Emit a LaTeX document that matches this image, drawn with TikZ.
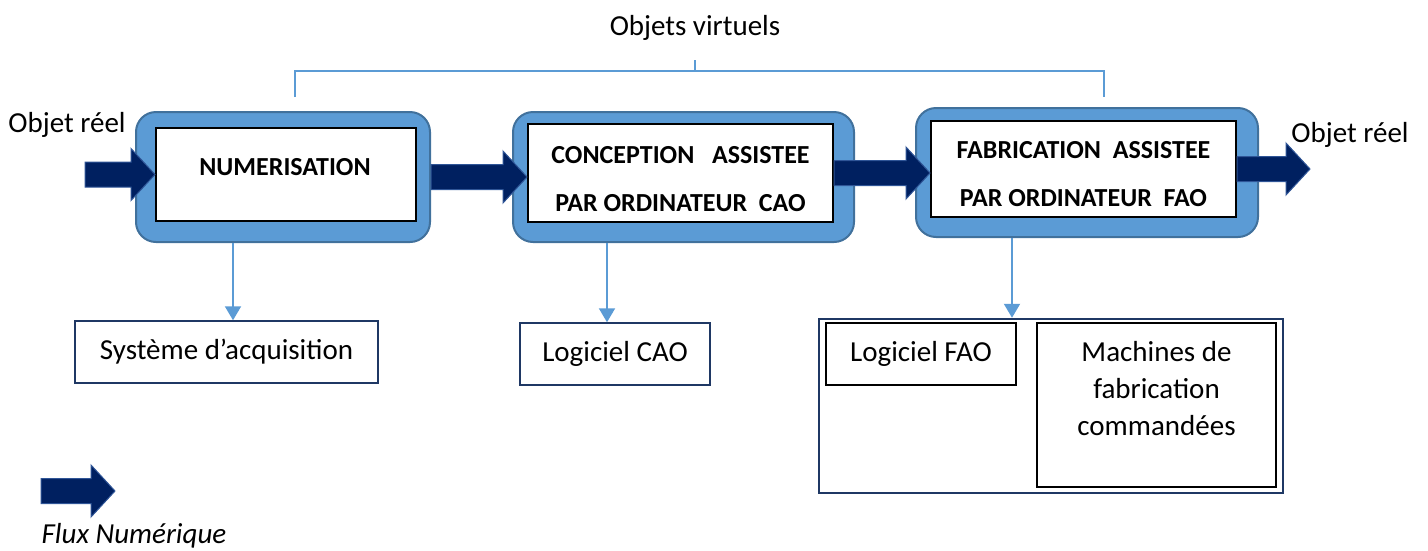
\documentclass[tikz,border=0pt]{standalone}
\usepackage{fontspec}
\setmainfont{Carlito}
\usetikzlibrary{arrows.meta,calc,positioning}

\definecolor{boxblue}{HTML}{5B9BD5}
\definecolor{boxedge}{HTML}{41719C}
\definecolor{fluxnavy}{HTML}{002060}
\definecolor{fluxedge}{HTML}{2F5597}
\definecolor{darknavy}{HTML}{1F3864}

%% block arrow from #1 to the x of #2
\newcommand\flux[2]{%
  \coordinate (fluxtip) at (#1 -| #2);
  \draw[fluxarr] ($(#1)+(0,-12.5)$) -- ($(fluxtip)+(-24,-12.5)$)
  -- ($(fluxtip)+(-24,-26)$) -- (fluxtip) -- ($(fluxtip)+(-24,26)$)
  -- ($(fluxtip)+(-24,12.5)$) -- ($(#1)+(0,12.5)$) -- cycle;}

\begin{document}
\begin{tikzpicture}[x=1pt,y=-1pt,
  txt/.style={font=\fontsize{29}{37}\selectfont,inner sep=0pt,align=center},
  outerbox/.style={draw=boxedge,line width=2pt,fill=boxblue,rounded corners=20pt},
  innerbox/.style={draw=black,line width=2pt,fill=white,inner sep=0pt},
  stagetxt/.style={align=center,font=\fontsize{26}{48}\selectfont\bfseries,inner sep=0pt},
  toolbox/.style={draw=darknavy,line width=1.5pt,fill=white,
    font=\fontsize{29}{37}\selectfont,inner sep=0pt},
  fluxarr/.style={draw=fluxedge,line width=1pt,fill=fluxnavy},
  down/.style={draw=boxblue,line width=2pt,-{Triangle[length=14pt,width=16pt]}}]

  \useasboundingbox (0,0) rectangle (1428,550);

  %% virtual objects
  \node[txt] (virt) at (695,28) {Objets virtuels};
  \draw[boxblue,line width=1.2pt] (295,97) -- (295,71) -- (1104,71) -- (1104,97);
  \draw[boxblue,line width=1.2pt] (695,71) -- (695,60);

  %% stages
  \node[outerbox,minimum width=294pt,minimum height=130pt] (numout) at (283,177) {};
  \node[innerbox,minimum width=260pt,minimum height=93pt] (numin) at (286,174.5) {};
  \node[stagetxt] (numtxt) at (285,167) {NUMERISATION};
  \node[outerbox,minimum width=341pt,minimum height=130pt] (caoout) at (683.5,177) {};
  \node[innerbox,minimum width=305pt,minimum height=98pt] (caoin) at (680.5,173) {};
  \node[stagetxt] (caotxt) at (680.5,179)
  {CONCEPTION\ \ \ ASSISTEE\\PAR ORDINATEUR\ \ CAO};
  \node[outerbox,minimum width=342pt,minimum height=129pt] (fabout) at (1087,172.5) {};
  \node[innerbox,minimum width=305pt,minimum height=96pt] (fabin) at (1083.5,169) {};
  \node[stagetxt] (fabtxt) at (1083.5,174)
  {FABRICATION\ \ ASSISTEE\\PAR ORDINATEUR\ \ FAO};

  %% real objects
  \node[txt] (objin) at (67,125) {Objet réel};
  \node[txt] (objout) at (1350,135) {Objet réel};
  \coordinate (reelin) at ([xshift=-70pt]numin.west);
  \coordinate (reelout) at ([xshift=73pt]fabin.east);

  %% flow
  \flux{reelin}{numin.west}
  \flux{numout.east}{caoin.west}
  \flux{caoin.east}{fabin.west}
  \flux{fabin.east}{reelout}

  %% tools
  \node[toolbox,minimum width=303pt,minimum height=62pt] (sys) at (226.5,352)
  {Système d’acquisition};
  \node[toolbox,minimum width=190pt,minimum height=62pt] (logcao) at (615,354)
  {Logiciel CAO};
  \node[draw=darknavy,line width=2.5pt,minimum width=464pt,minimum height=174pt]
  (fabtools) at (1051,406) {};
  \node[toolbox,draw=black,minimum width=190pt,minimum height=62pt] (logfao) at (921,354)
  {Logiciel FAO};
  \node[toolbox,draw=black,line width=2pt,minimum width=239pt,minimum height=164pt]
  (mach) at (1156.5,405) {};
  \node[txt,below=19pt of mach.north] (machtxt)
  {Machines de\\fabrication\\commandées};

  %% stage to tools
  \coordinate (d1) at ([xshift=-50pt]numout.south);
  \coordinate (d2) at ([xshift=-76.5pt]caoout.south);
  \coordinate (d3) at ([xshift=-75pt]fabout.south);
  \draw[down] (d1) -- (d1 |- sys.north);
  \draw[down] (d2) -- (d2 |- logcao.north);
  \draw[down] (d3) -- (d3 |- fabtools.north);

  %% legend
  \coordinate (leg) at (41,491);
  \coordinate (legtip) at (115,491);
  \flux{leg}{legtip}
  \node[txt,font=\fontsize{29}{37}\selectfont\itshape] (legtxt) at (134,536)
  {Flux Numérique};

\end{tikzpicture}
\end{document}
